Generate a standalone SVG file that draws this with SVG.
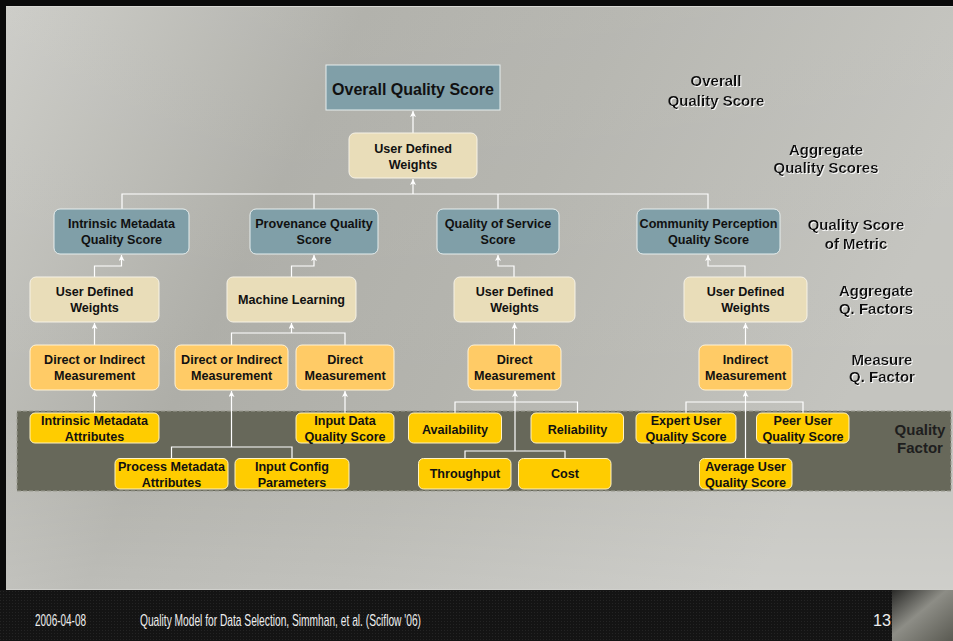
<svg xmlns="http://www.w3.org/2000/svg" width="953" height="641" viewBox="0 0 953 641">
<defs>
  <linearGradient id="bg" x1="0" y1="0" x2="1" y2="0.3">
    <stop offset="0" stop-color="#cbcbc6"/>
    <stop offset="0.35" stop-color="#aeaea8"/>
    <stop offset="0.6" stop-color="#b4b4ae"/>
    <stop offset="1" stop-color="#c4c4bf"/>
  </linearGradient>
  <linearGradient id="bgv" x1="0" y1="0" x2="0" y2="1">
    <stop offset="0" stop-color="#ffffff" stop-opacity="0.05"/>
    <stop offset="0.7" stop-color="#ffffff" stop-opacity="0"/>
    <stop offset="1" stop-color="#ffffff" stop-opacity="0.18"/>
  </linearGradient>
  <linearGradient id="corner" x1="0" y1="0" x2="1" y2="1">
    <stop offset="0" stop-color="#2a2a28"/>
    <stop offset="0.45" stop-color="#8d8d86"/>
    <stop offset="1" stop-color="#5a5a52"/>
  </linearGradient>
  <pattern id="dots" width="3" height="3" patternUnits="userSpaceOnUse">
    <rect width="3" height="3" fill="#141414"/>
    <rect width="1" height="1" fill="#242424"/>
  </pattern>
  <marker id="arr" viewBox="0 0 6 6" refX="6" refY="3" markerWidth="6" markerHeight="6" orient="auto" markerUnits="userSpaceOnUse">
    <path d="M0,0 L6,3 L0,6 L1.5,3 z" fill="#ffffff"/>
  </marker>
  <filter id="wsh" x="-10%" y="-20%" width="120%" height="140%">
    <feDropShadow dx="1" dy="1" stdDeviation="0.3" flood-color="#ffffff" flood-opacity="0.9"/>
  </filter>
  <style>
    .blue { fill: #809fa8; stroke: #e6eeee; stroke-width: 1; }
    .beige { fill: #e9ddb9; stroke: #f6f2e6; stroke-width: 1; }
    .orange { fill: #ffcb66; stroke: #fff3d6; stroke-width: 1; }
    .yellow { fill: #ffcc00; stroke: #fff2c0; stroke-width: 1; }
    .nt { font-family: "Liberation Sans", Arial, sans-serif; font-weight: bold; font-size: 12.6px; fill: #111111; text-anchor: middle; }
    .big { font-size: 16px; }
    .side { font-family: "Liberation Sans", Arial, sans-serif; font-weight: bold; font-size: 15px; fill: #111111; text-anchor: middle; }
    .conn { fill: none; stroke: #ffffff; stroke-width: 1.2; }
    .foot { font-family: "Liberation Sans", Arial, sans-serif; font-size: 17px; fill: #eeeeee; }
  </style>
</defs>

<!-- frame and background -->
<rect x="0" y="0" width="953" height="641" fill="#0a0a0a"/>
<rect x="6" y="6" width="947" height="583" fill="url(#bg)"/>
<rect x="6" y="6" width="947" height="583" fill="url(#bgv)"/>
<line x1="6" y1="6.5" x2="953" y2="6.5" stroke="#d8d8d4" stroke-width="1"/>
<line x1="6" y1="589.5" x2="953" y2="589.5" stroke="#d0d0cc" stroke-width="1"/>

<!-- footer -->
<rect x="0" y="590" width="953" height="51" fill="url(#dots)"/>
<rect x="892" y="590" width="61" height="51" fill="url(#corner)"/>
<text class="foot" x="35" y="626" textLength="51" lengthAdjust="spacingAndGlyphs">2006-04-08</text>
<text class="foot" x="140" y="626" textLength="281" lengthAdjust="spacingAndGlyphs">Quality Model for Data Selection, Simmhan, et al. (Sciflow '06)</text>
<text class="foot" x="873" y="626" textLength="18" lengthAdjust="spacingAndGlyphs">13</text>

<!-- quality factor band -->
<rect x="17" y="411" width="934" height="80" fill="#67685a" stroke="#9c9c92" stroke-width="1" stroke-dasharray="4,2"/>

<!-- side labels -->
<g id="side-labels" filter="url(#wsh)">
  <text class="side big" x="716" y="86.4">Overall</text>
  <text class="side big" x="716" y="105.7">Quality Score</text>
  <text class="side big" x="826" y="154.7">Aggregate</text>
  <text class="side big" x="826" y="173.4">Quality Scores</text>
  <text class="side" x="856" y="230">Quality Score</text>
  <text class="side" x="856" y="249">of Metric</text>
  <text class="side" x="876" y="295.7">Aggregate</text>
  <text class="side" x="876" y="313.7">Q. Factors</text>
  <text class="side" x="882" y="364.7">Measure</text>
  <text class="side" x="882" y="382.4">Q. Factor</text>
</g>
<g id="band-label">
  <text class="side" x="920" y="435" style="fill:#1e1e1e">Quality</text>
  <text class="side" x="920" y="453.4" style="fill:#1e1e1e">Factor</text>
</g>

<!-- connectors -->
<g id="connectors">
  <path class="conn" d="M413,133 V111" marker-end="url(#arr)"/>
  <path class="conn" d="M122,209 V194 H708 V209 M314,194 V209 M498,194 V209"/>
  <path class="conn" d="M413,194 V179" marker-end="url(#arr)"/>
  <path class="conn" d="M94.5,277 V266 H121.5 V255" marker-end="url(#arr)"/>
  <path class="conn" d="M291.5,277 V266 H314 V255" marker-end="url(#arr)"/>
  <path class="conn" d="M514,277 V266 H498 V255" marker-end="url(#arr)"/>
  <path class="conn" d="M745,277 V266 H708 V255" marker-end="url(#arr)"/>
  <path class="conn" d="M94.5,345 V323" marker-end="url(#arr)"/>
  <path class="conn" d="M231.5,345 V333 H345 V345"/>
  <path class="conn" d="M291.5,333 V323" marker-end="url(#arr)"/>
  <path class="conn" d="M514.5,345 V323" marker-end="url(#arr)"/>
  <path class="conn" d="M745.5,345 V323" marker-end="url(#arr)"/>
  <path class="conn" d="M94.5,413 V391" marker-end="url(#arr)"/>
  <path class="conn" d="M171.5,458 V447 H292 V458"/>
  <path class="conn" d="M231.5,447 V391" marker-end="url(#arr)"/>
  <path class="conn" d="M345,413 V391" marker-end="url(#arr)"/>
  <path class="conn" d="M455,413 V402 H577.5 V413"/>
  <path class="conn" d="M465,459 V451 H565 V459"/>
  <path class="conn" d="M515,451 V391" marker-end="url(#arr)"/>
  <path class="conn" d="M686,413 V402 H803 V413"/>
  <path class="conn" d="M745.5,459 V391" marker-end="url(#arr)"/>
</g>

<!-- level 1 -->
<g id="overall">
  <rect class="blue" x="326" y="65" width="174" height="45"/>
  <text class="nt big" x="413" y="94.5">Overall Quality Score</text>
</g>
<g id="udw-top">
  <rect class="beige" x="349" y="133" width="128" height="45" rx="6"/>
  <text class="nt" x="413" y="153">User Defined</text>
  <text class="nt" x="413" y="168.5">Weights</text>
</g>

<!-- level 3 -->
<g id="intrinsic-score">
  <rect class="blue" x="54" y="209" width="135" height="45" rx="6"/>
  <text class="nt" x="121.5" y="227.5">Intrinsic Metadata</text>
  <text class="nt" x="121.5" y="243.5">Quality Score</text>
</g>
<g id="provenance-score">
  <rect class="blue" x="250" y="209" width="128" height="45" rx="6"/>
  <text class="nt" x="314" y="227.5">Provenance Quality</text>
  <text class="nt" x="314" y="243.5">Score</text>
</g>
<g id="qos-score">
  <rect class="blue" x="437" y="209" width="122" height="45" rx="6"/>
  <text class="nt" x="498" y="227.5">Quality of Service</text>
  <text class="nt" x="498" y="243.5">Score</text>
</g>
<g id="community-score">
  <rect class="blue" x="637" y="209" width="143" height="45" rx="6"/>
  <text class="nt" x="708.5" y="227.5">Community Perception</text>
  <text class="nt" x="708.5" y="243.5">Quality Score</text>
</g>

<!-- level 4 -->
<g id="udw-intrinsic">
  <rect class="beige" x="30" y="277" width="129" height="45" rx="6"/>
  <text class="nt" x="94.5" y="295.5">User Defined</text>
  <text class="nt" x="94.5" y="311.5">Weights</text>
</g>
<g id="machine-learning">
  <rect class="beige" x="227" y="277" width="129" height="45" rx="6"/>
  <text class="nt" x="291.5" y="303.5">Machine Learning</text>
</g>
<g id="udw-qos">
  <rect class="beige" x="454" y="277" width="121" height="45" rx="6"/>
  <text class="nt" x="514.5" y="295.5">User Defined</text>
  <text class="nt" x="514.5" y="311.5">Weights</text>
</g>
<g id="udw-community">
  <rect class="beige" x="684" y="277" width="123" height="45" rx="6"/>
  <text class="nt" x="745.5" y="295.5">User Defined</text>
  <text class="nt" x="745.5" y="311.5">Weights</text>
</g>

<!-- level 5 -->
<g id="doi-intrinsic">
  <rect class="orange" x="30" y="345" width="129" height="45" rx="6"/>
  <text class="nt" x="94.5" y="363.5">Direct or Indirect</text>
  <text class="nt" x="94.5" y="379.5">Measurement</text>
</g>
<g id="doi-provenance">
  <rect class="orange" x="175" y="345" width="113" height="45" rx="6"/>
  <text class="nt" x="231.5" y="363.5">Direct or Indirect</text>
  <text class="nt" x="231.5" y="379.5">Measurement</text>
</g>
<g id="direct-provenance">
  <rect class="orange" x="296" y="345" width="98" height="45" rx="6"/>
  <text class="nt" x="345" y="363.5">Direct</text>
  <text class="nt" x="345" y="379.5">Measurement</text>
</g>
<g id="direct-qos">
  <rect class="orange" x="468" y="345" width="93" height="45" rx="6"/>
  <text class="nt" x="514.5" y="363.5">Direct</text>
  <text class="nt" x="514.5" y="379.5">Measurement</text>
</g>
<g id="indirect-community">
  <rect class="orange" x="699" y="345" width="93" height="45" rx="6"/>
  <text class="nt" x="745.5" y="363.5">Indirect</text>
  <text class="nt" x="745.5" y="379.5">Measurement</text>
</g>

<!-- level 6 -->
<g id="intrinsic-attrs">
  <rect class="yellow" x="30" y="413" width="129" height="30" rx="5"/>
  <text class="nt" x="94.5" y="425">Intrinsic Metadata</text>
  <text class="nt" x="94.5" y="440.5">Attributes</text>
</g>
<g id="process-attrs">
  <rect class="yellow" x="115" y="458.5" width="113" height="30.5" rx="5"/>
  <text class="nt" x="171.5" y="471">Process Metadata</text>
  <text class="nt" x="171.5" y="486.5">Attributes</text>
</g>
<g id="input-config">
  <rect class="yellow" x="235" y="458.5" width="114" height="30.5" rx="5"/>
  <text class="nt" x="292" y="471">Input Config</text>
  <text class="nt" x="292" y="486.5">Parameters</text>
</g>
<g id="input-data">
  <rect class="yellow" x="296" y="413" width="98" height="30" rx="5"/>
  <text class="nt" x="345" y="425">Input Data</text>
  <text class="nt" x="345" y="440.5">Quality Score</text>
</g>
<g id="availability">
  <rect class="yellow" x="408.5" y="413" width="93" height="30" rx="5"/>
  <text class="nt" x="455" y="433.5">Availability</text>
</g>
<g id="reliability">
  <rect class="yellow" x="531" y="413" width="92.5" height="30" rx="5"/>
  <text class="nt" x="577.5" y="433.5">Reliability</text>
</g>
<g id="throughput">
  <rect class="yellow" x="418.5" y="458.5" width="92.5" height="30.5" rx="5"/>
  <text class="nt" x="465" y="478">Throughput</text>
</g>
<g id="cost">
  <rect class="yellow" x="518.5" y="458.5" width="92.5" height="30.5" rx="5"/>
  <text class="nt" x="565" y="478">Cost</text>
</g>
<g id="expert-user">
  <rect class="yellow" x="636" y="413" width="100" height="30" rx="5"/>
  <text class="nt" x="686" y="425">Expert User</text>
  <text class="nt" x="686" y="440.5">Quality Score</text>
</g>
<g id="peer-user">
  <rect class="yellow" x="756.5" y="413" width="92.5" height="30" rx="5"/>
  <text class="nt" x="803" y="425">Peer User</text>
  <text class="nt" x="803" y="440.5">Quality Score</text>
</g>
<g id="average-user">
  <rect class="yellow" x="699.5" y="458.5" width="92.5" height="30.5" rx="5"/>
  <text class="nt" x="745.5" y="471">Average User</text>
  <text class="nt" x="745.5" y="486.5">Quality Score</text>
</g>
</svg>
